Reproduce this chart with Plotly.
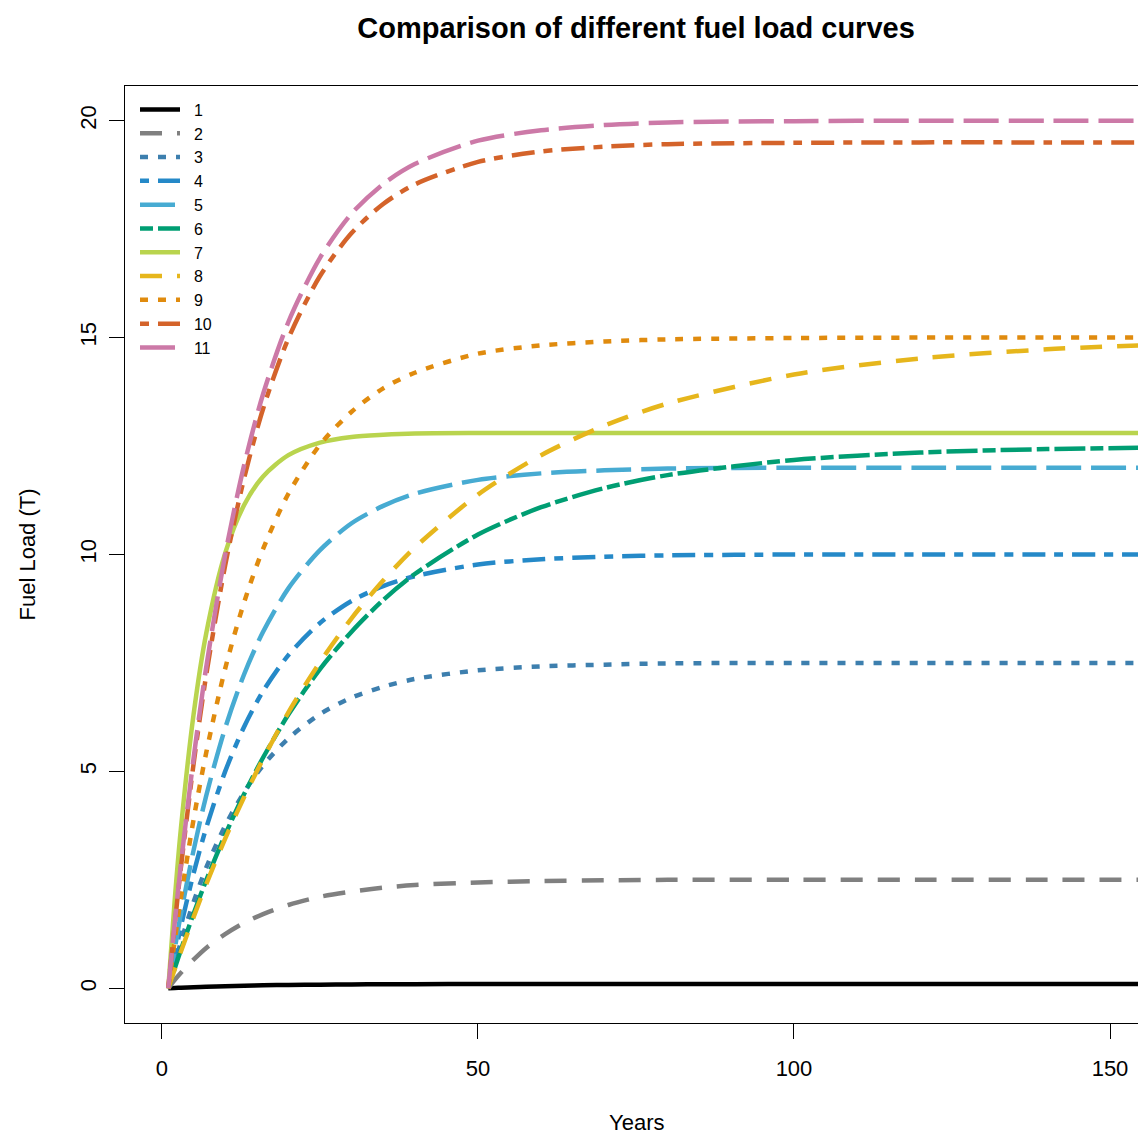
import plotly.graph_objects as go

years = [1, 2, 3, 5, 7, 10, 13, 16, 20, 25, 30, 35, 40, 50, 60, 70, 80, 100, 120, 140, 160]

curve_names = ["1", "2", "3", "4", "5", "6", "7", "8", "9", "10", "11"]

c1 = [0, 0.007, 0.014, 0.027, 0.037, 0.05, 0.06, 0.069, 0.077, 0.084, 0.089, 0.093, 0.095, 0.098, 0.099, 0.1, 0.1, 0.1, 0.1, 0.1, 0.1]
c2 = [0, 0.19, 0.36, 0.66, 0.93, 1.25, 1.51, 1.71, 1.92, 2.11, 2.23, 2.32, 2.38, 2.44, 2.47, 2.49, 2.5, 2.5, 2.5, 2.5, 2.5]
c3 = [0, 0.56, 1.07, 1.99, 2.78, 3.75, 4.52, 5.14, 5.76, 6.32, 6.70, 6.95, 7.13, 7.33, 7.42, 7.46, 7.49, 7.5, 7.5, 7.5, 7.5]
c4 = [0, 0.74, 1.43, 2.65, 3.70, 5.0, 6.03, 6.85, 7.68, 8.42, 8.93, 9.27, 9.50, 9.77, 9.89, 9.95, 9.98, 10, 10, 10, 10]
c5 = [0, 0.89, 1.72, 3.18, 4.44, 6.0, 7.24, 8.22, 9.22, 10.10, 10.72, 11.12, 11.40, 11.72, 11.87, 11.94, 11.98, 12, 12, 12, 12]
c6 = [0, 0.45, 0.89, 1.72, 2.49, 3.54, 4.48, 5.32, 6.31, 7.36, 8.22, 8.95, 9.55, 10.46, 11.09, 11.53, 11.83, 12.18, 12.35, 12.43, 12.47]
c7 = [0, 2.0, 3.69, 6.31, 8.18, 10.03, 11.14, 11.80, 12.29, 12.58, 12.71, 12.76, 12.79, 12.8, 12.8, 12.8, 12.8, 12.8, 12.8, 12.8, 12.8]
c8 = [0, 0.43, 0.85, 1.64, 2.40, 3.45, 4.41, 5.29, 6.36, 7.52, 8.53, 9.40, 10.16, 11.38, 12.29, 12.97, 13.48, 14.15, 14.52, 14.73, 14.85]
c9 = [0, 1.08, 2.09, 3.89, 5.43, 7.37, 8.90, 10.13, 11.40, 12.53, 13.29, 13.83, 14.19, 14.63, 14.82, 14.91, 14.96, 14.99, 15, 15, 15]
c10 = [0, 1.44, 2.79, 5.17, 7.22, 9.75, 11.76, 13.36, 14.98, 16.42, 17.41, 18.08, 18.53, 19.05, 19.29, 19.40, 19.46, 19.49, 19.5, 19.5, 19.5]
c11 = [0, 1.48, 2.86, 5.30, 7.40, 10.0, 12.06, 13.70, 15.36, 16.84, 17.86, 18.54, 19.0, 19.54, 19.78, 19.90, 19.96, 19.99, 20, 20, 20]

series = [c1, c2, c3, c4, c5, c6, c7, c8, c9, c10, c11]

x_ticks = [0, 50, 100, 150]
y_ticks = [0, 5, 10, 15, 20]

colors = ["#000000", "#808080", "#3D7FAE", "#2589C8", "#47ABD2", "#009E73",
          "#B9D44E", "#E6B61C", "#E08B0E", "#D4632A", "#CC79A7"]

# R line types: solid, dashed, dotted, dotdash, longdash, twodash (scaled by lwd)
dashes = ["solid", "22px,15px", "8px,10px", "9px,9px,23px,9px", "35px,10px",
          "13px,5px,31px,5px", "solid", "22px,15px", "8px,10px",
          "9px,9px,23px,9px", "35px,10px"]

FONT = "Liberation Sans, Arial, sans-serif"

fig = go.Figure()
for name, ys, col, dsh in zip(curve_names, series, colors, dashes):
    fig.add_trace(go.Scatter(
        x=years, y=ys, mode="lines", name="\u00a0\u00a0" + name,
        line=dict(color=col, width=4.5, dash=dsh, shape="spline", smoothing=0.8),
    ))

W, H = 1138, 1135
L, T, B, R = 125, 86, 112, 0

fig.update_layout(
    width=W, height=H,
    margin=dict(l=L, r=R, t=T, b=B, pad=0),
    paper_bgcolor="white", plot_bgcolor="white",
    font=dict(family=FONT, size=22, color="black"),
    title=dict(text="Comparison of different fuel load curves",
               font=dict(family=FONT, size=29, color="black", weight="bold"),
               x=(636 - L) / (W - L), xref="paper", xanchor="center",
               y=1 - 28 / H, yref="container", yanchor="middle"),
    showlegend=True,
    legend=dict(x=(135 - L) / (W - L), y=0.993, xanchor="left", yanchor="top",
                bgcolor="rgba(255,255,255,0)", borderwidth=0,
                font=dict(family=FONT, size=16, color="black"),
                itemwidth=40, tracegroupgap=0, traceorder="normal"),
    xaxis=dict(range=[-5.85, 154.43], tickvals=x_ticks, showgrid=False, zeroline=False,
               showline=True, linecolor="black", linewidth=1, mirror=True,
               ticks="outside", ticklen=15, tickwidth=1, tickcolor="black",
               ticklabelstandoff=11,
               tickfont=dict(family=FONT, size=22, color="black")),
    yaxis=dict(range=[-0.8, 20.8], tickvals=y_ticks, showgrid=False, zeroline=False,
               showline=True, linecolor="black", linewidth=1, mirror=False,
               ticks="outside", ticklen=15, tickwidth=1, tickcolor="black",
               tickangle=-90, ticklabelstandoff=4,
               tickfont=dict(family=FONT, size=22, color="black")),
    annotations=[
        dict(text="Years", xref="paper", yref="paper",
             x=(636 - L) / (W - L), y=(H - B - 1122) / (H - T - B),
             xanchor="center", yanchor="middle", showarrow=False,
             font=dict(family=FONT, size=22, color="black")),
        dict(text="Fuel Load (T)", xref="paper", yref="paper",
             x=(27 - L) / (W - L), y=0.5, textangle=-90,
             xanchor="center", yanchor="middle", showarrow=False,
             font=dict(family=FONT, size=22, color="black")),
    ],
)

fig.write_html(
    "out.html",
    config={"displayModeBar": False},
    post_script="document.body.style.margin='0';document.body.style.overflow='hidden';",
)
